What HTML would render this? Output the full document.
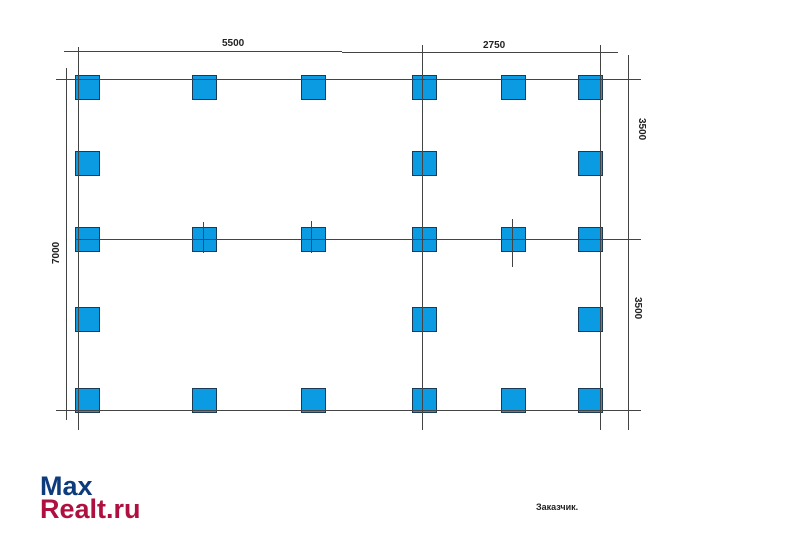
<!DOCTYPE html>
<html><head><meta charset="utf-8"><style>
body{margin:0;width:800px;height:546px;background:#fff;overflow:hidden;position:relative;font-family:"Liberation Sans",sans-serif}
svg{position:absolute;left:0;top:0}
.logo{position:absolute;left:40px;font-weight:bold;font-size:27px;line-height:1}
</style></head><body>
<svg width="800" height="546" xmlns="http://www.w3.org/2000/svg">
<g stroke="#444" stroke-width="1" fill="none">
<line x1="64" y1="51.5" x2="342" y2="51.5"/>
<line x1="342" y1="52.5" x2="618" y2="52.5"/>
<line x1="56" y1="79.5" x2="641" y2="79.5"/>
<line x1="75" y1="239.5" x2="641" y2="239.5"/>
<line x1="56" y1="410.5" x2="641" y2="410.5"/>
<line x1="78.5" y1="47" x2="78.5" y2="430"/>
<line x1="66.5" y1="68" x2="66.5" y2="420"/>
<line x1="422.5" y1="45" x2="422.5" y2="430"/>
<line x1="600.5" y1="45" x2="600.5" y2="430"/>
<line x1="628.5" y1="55" x2="628.5" y2="430"/>
</g>
<g fill="#0a9be3" stroke="#1a3a55" stroke-width="1">
<rect x="75.5" y="75.5" width="24" height="24"/><rect x="192.5" y="75.5" width="24" height="24"/><rect x="301.5" y="75.5" width="24" height="24"/><rect x="412.5" y="75.5" width="24" height="24"/><rect x="501.5" y="75.5" width="24" height="24"/><rect x="578.5" y="75.5" width="24" height="24"/>
<rect x="75.5" y="151.5" width="24" height="24"/><rect x="412.5" y="151.5" width="24" height="24"/><rect x="578.5" y="151.5" width="24" height="24"/>
<rect x="75.5" y="227.5" width="24" height="24"/><rect x="192.5" y="227.5" width="24" height="24"/><rect x="301.5" y="227.5" width="24" height="24"/><rect x="412.5" y="227.5" width="24" height="24"/><rect x="501.5" y="227.5" width="24" height="24"/><rect x="578.5" y="227.5" width="24" height="24"/>
<rect x="75.5" y="307.5" width="24" height="24"/><rect x="412.5" y="307.5" width="24" height="24"/><rect x="578.5" y="307.5" width="24" height="24"/>
<rect x="75.5" y="388.5" width="24" height="24"/><rect x="192.5" y="388.5" width="24" height="24"/><rect x="301.5" y="388.5" width="24" height="24"/><rect x="412.5" y="388.5" width="24" height="24"/><rect x="501.5" y="388.5" width="24" height="24"/><rect x="578.5" y="388.5" width="24" height="24"/>
</g>
<g stroke="#444" stroke-width="1">
<line x1="78.5" y1="75" x2="78.5" y2="100"/><line x1="78.5" y1="151" x2="78.5" y2="176"/><line x1="78.5" y1="227" x2="78.5" y2="252"/><line x1="78.5" y1="307" x2="78.5" y2="332"/><line x1="78.5" y1="388" x2="78.5" y2="413"/>
<line x1="422.5" y1="75" x2="422.5" y2="100"/><line x1="422.5" y1="151" x2="422.5" y2="176"/><line x1="422.5" y1="227" x2="422.5" y2="252"/><line x1="422.5" y1="307" x2="422.5" y2="332"/><line x1="422.5" y1="388" x2="422.5" y2="413"/>
<line x1="600.5" y1="75" x2="600.5" y2="100"/><line x1="600.5" y1="151" x2="600.5" y2="176"/><line x1="600.5" y1="227" x2="600.5" y2="252"/><line x1="600.5" y1="307" x2="600.5" y2="332"/><line x1="600.5" y1="388" x2="600.5" y2="413"/>
<line x1="75" y1="79.5" x2="603" y2="79.5"/><line x1="75" y1="239.5" x2="603" y2="239.5"/><line x1="75" y1="410.5" x2="603" y2="410.5"/>
<line x1="203.5" y1="222" x2="203.5" y2="253"/>
<line x1="311.5" y1="221" x2="311.5" y2="253"/>
<line x1="512.5" y1="219" x2="512.5" y2="267"/>
</g>
<g font-family="Liberation Sans, sans-serif" font-weight="bold" font-size="10" fill="#222">
<text x="222" y="46">5500</text>
<text x="483" y="48">2750</text>
<text transform="translate(639,118) rotate(90)">3500</text>
<text transform="translate(635,297) rotate(90)">3500</text>
<text transform="translate(59,264) rotate(-90)">7000</text>
<text x="536" y="510" font-size="9">Заказчик.</text>
</g>
</svg>
<div class="logo" style="top:473px;color:#0d3b7c">Max</div>
<div class="logo" style="top:496px;color:#b0103f">Realt.ru</div>
</body></html>
